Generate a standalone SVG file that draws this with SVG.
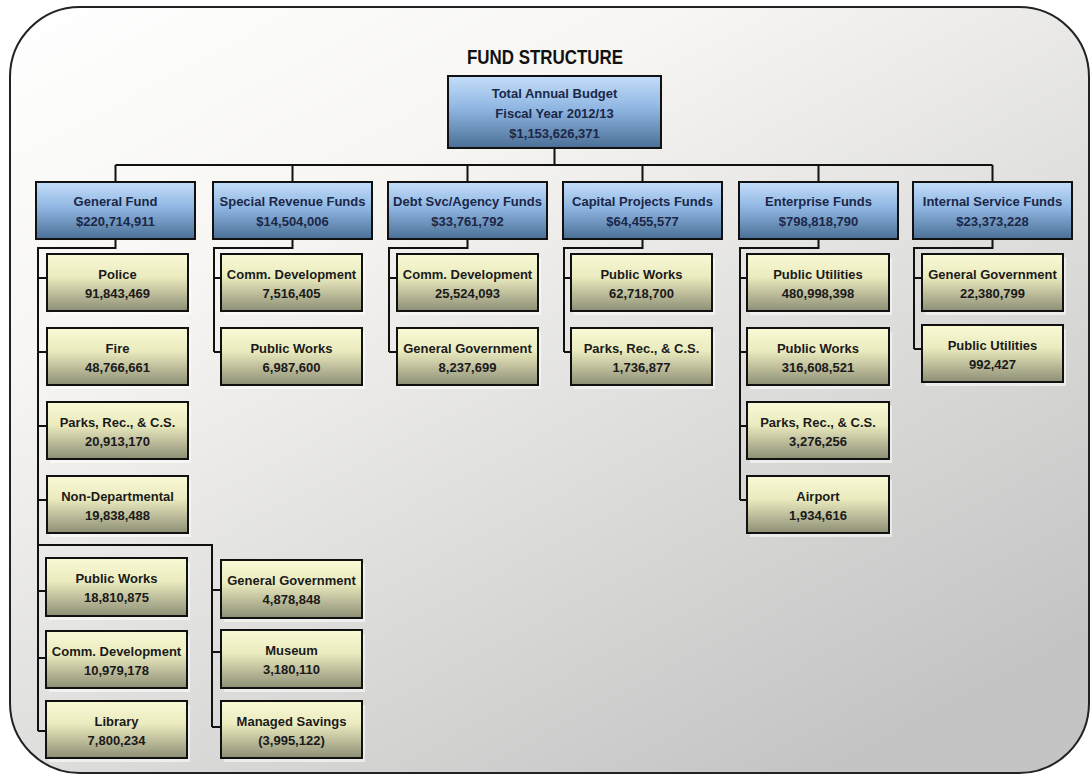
<svg xmlns="http://www.w3.org/2000/svg" width="1091" height="775" viewBox="0 0 1091 775">
<defs>
<linearGradient id="bg" x1="0" y1="0" x2="0.75" y2="1">
<stop offset="0" stop-color="#ffffff"/>
<stop offset="0.3" stop-color="#f7f6f3"/>
<stop offset="1" stop-color="#c4c4c4"/>
</linearGradient>
<linearGradient id="blue" x1="0" y1="0" x2="0" y2="1">
<stop offset="0" stop-color="#c4def9"/>
<stop offset="0.45" stop-color="#8fb6e2"/>
<stop offset="1" stop-color="#4b6f95"/>
</linearGradient>
<linearGradient id="yel" x1="0" y1="0" x2="0" y2="1">
<stop offset="0" stop-color="#f9f9d6"/>
<stop offset="0.4" stop-color="#ebebbf"/>
<stop offset="1" stop-color="#8e8e76"/>
</linearGradient>
</defs>
<style>
.frame{fill:url(#bg);stroke:#222;stroke-width:2}
.l1 rect.b{fill:url(#blue);stroke:#111;stroke-width:2}
.l2 rect.b{fill:url(#yel);stroke:#111;stroke-width:2}
rect.s{fill:#ffffff;opacity:0.55}
text{font-family:"Liberation Sans",Arial,sans-serif;font-weight:bold;text-anchor:middle}
.l1 text,.top text{fill:#1b2748;font-size:13px}
.l2 text{fill:#1a1a1a;font-size:13px}
.title{font-size:21px;fill:#111}
#connectors path{fill:none;stroke:#111;stroke-width:2}
</style>
<rect class="frame" x="10" y="7" width="1079" height="766" rx="70" ry="70"/>
<text class="title" x="545" y="64" textLength="156" lengthAdjust="spacingAndGlyphs">FUND STRUCTURE</text>
<g id="connectors">
<path d="M554.5 148V165M115.5 165H992.5M115.5 165V182M292.5 165V182M467.5 165V182M642.5 165V182M818.5 165V182M992.5 165V182"/>
<path d="M115.5 239V248H38V731M38 278H47M38 352H47M38 426H47M38 500H47M38 591H46M38 658H46M38 731H46M38 545H212V727M212 590H221M212 652H221M212 727H221"/>
<path d="M292.5 239V248H214V352M214 278H221M214 352H221"/>
<path d="M467.5 239V248H389V352M389 278H397M389 352H397"/>
<path d="M642.5 239V248H564V352M564 278H571M564 352H571"/>
<path d="M818.5 239V248H740V500M740 278H747M740 352H747M740 426H747M740 500H747"/>
<path d="M992.5 239V248H914V349M914 278H922M914 349H922"/>
</g>
<g id="total" class="top"><rect class="b" x="448" y="76" width="213" height="72" fill="url(#blue)" stroke="#111" stroke-width="2"/><text x="554.5" y="97.5" font-size="13.5">Total Annual Budget</text><text x="554.5" y="118">Fiscal Year 2012/13</text><text x="554.5" y="137.5">$1,153,626,371</text></g>
<g id="general-fund" class="l1"><rect class="b" x="36" y="182" width="159" height="57"/><text x="115.5" y="206">General Fund</text><text x="115.5" y="226">$220,714,911</text></g>
<g id="special-revenue" class="l1"><rect class="b" x="213" y="182" width="159" height="57"/><text x="292.5" y="206">Special Revenue Funds</text><text x="292.5" y="226">$14,504,006</text></g>
<g id="debt-svc" class="l1"><rect class="b" x="388" y="182" width="159" height="57"/><text x="467.5" y="206">Debt Svc/Agency Funds</text><text x="467.5" y="226">$33,761,792</text></g>
<g id="capital-projects" class="l1"><rect class="b" x="563" y="182" width="159" height="57"/><text x="642.5" y="206">Capital Projects Funds</text><text x="642.5" y="226">$64,455,577</text></g>
<g id="enterprise" class="l1"><rect class="b" x="739" y="182" width="159" height="57"/><text x="818.5" y="206">Enterprise Funds</text><text x="818.5" y="226">$798,818,790</text></g>
<g id="internal-service" class="l1"><rect class="b" x="913" y="182" width="159" height="57"/><text x="992.5" y="206">Internal Service Funds</text><text x="992.5" y="226">$23,373,228</text></g>
<g id="gf-police" class="l2"><rect class="s" x="50" y="258" width="141" height="57"/><rect class="b" x="47" y="254" width="141" height="57"/><text x="117.5" y="278.5">Police</text><text x="117.5" y="297.5">91,843,469</text></g>
<g id="gf-fire" class="l2"><rect class="s" x="50" y="332" width="141" height="57"/><rect class="b" x="47" y="328" width="141" height="57"/><text x="117.5" y="352.5">Fire</text><text x="117.5" y="371.5">48,766,661</text></g>
<g id="gf-parks" class="l2"><rect class="s" x="50" y="406" width="141" height="57"/><rect class="b" x="47" y="402" width="141" height="57"/><text x="117.5" y="426.5">Parks, Rec., &amp; C.S.</text><text x="117.5" y="445.5">20,913,170</text></g>
<g id="gf-nondept" class="l2"><rect class="s" x="50" y="480" width="141" height="57"/><rect class="b" x="47" y="476" width="141" height="57"/><text x="117.5" y="500.5">Non-Departmental</text><text x="117.5" y="519.5">19,838,488</text></g>
<g id="gf-publicworks" class="l2"><rect class="s" x="49" y="562" width="141" height="58"/><rect class="b" x="46" y="558" width="141" height="58"/><text x="116.5" y="582.5">Public Works</text><text x="116.5" y="601.5">18,810,875</text></g>
<g id="gf-commdev" class="l2"><rect class="s" x="49" y="635" width="141" height="57"/><rect class="b" x="46" y="631" width="141" height="57"/><text x="116.5" y="655.5">Comm. Development</text><text x="116.5" y="674.5">10,979,178</text></g>
<g id="gf-library" class="l2"><rect class="s" x="49" y="705" width="141" height="57"/><rect class="b" x="46" y="701" width="141" height="57"/><text x="116.5" y="725.5">Library</text><text x="116.5" y="744.5">7,800,234</text></g>
<g id="gf-gengov" class="l2"><rect class="s" x="224" y="564" width="141" height="58"/><rect class="b" x="221" y="560" width="141" height="58"/><text x="291.5" y="584.5">General Government</text><text x="291.5" y="603.5">4,878,848</text></g>
<g id="gf-museum" class="l2"><rect class="s" x="224" y="634" width="141" height="58"/><rect class="b" x="221" y="630" width="141" height="58"/><text x="291.5" y="654.5">Museum</text><text x="291.5" y="673.5">3,180,110</text></g>
<g id="gf-managed" class="l2"><rect class="s" x="224" y="705" width="141" height="57"/><rect class="b" x="221" y="701" width="141" height="57"/><text x="291.5" y="725.5">Managed Savings</text><text x="291.5" y="744.5">(3,995,122)</text></g>
<g id="sr-commdev" class="l2"><rect class="s" x="224" y="258" width="141" height="57"/><rect class="b" x="221" y="254" width="141" height="57"/><text x="291.5" y="278.5">Comm. Development</text><text x="291.5" y="297.5">7,516,405</text></g>
<g id="sr-publicworks" class="l2"><rect class="s" x="224" y="332" width="141" height="57"/><rect class="b" x="221" y="328" width="141" height="57"/><text x="291.5" y="352.5">Public Works</text><text x="291.5" y="371.5">6,987,600</text></g>
<g id="ds-commdev" class="l2"><rect class="s" x="400" y="258" width="141" height="57"/><rect class="b" x="397" y="254" width="141" height="57"/><text x="467.5" y="278.5">Comm. Development</text><text x="467.5" y="297.5">25,524,093</text></g>
<g id="ds-gengov" class="l2"><rect class="s" x="400" y="332" width="141" height="57"/><rect class="b" x="397" y="328" width="141" height="57"/><text x="467.5" y="352.5">General Government</text><text x="467.5" y="371.5">8,237,699</text></g>
<g id="cp-publicworks" class="l2"><rect class="s" x="574" y="258" width="141" height="57"/><rect class="b" x="571" y="254" width="141" height="57"/><text x="641.5" y="278.5">Public Works</text><text x="641.5" y="297.5">62,718,700</text></g>
<g id="cp-parks" class="l2"><rect class="s" x="574" y="332" width="141" height="57"/><rect class="b" x="571" y="328" width="141" height="57"/><text x="641.5" y="352.5">Parks, Rec., &amp; C.S.</text><text x="641.5" y="371.5">1,736,877</text></g>
<g id="ef-utilities" class="l2"><rect class="s" x="750" y="258" width="142" height="57"/><rect class="b" x="747" y="254" width="142" height="57"/><text x="818" y="278.5">Public Utilities</text><text x="818" y="297.5">480,998,398</text></g>
<g id="ef-publicworks" class="l2"><rect class="s" x="750" y="332" width="142" height="57"/><rect class="b" x="747" y="328" width="142" height="57"/><text x="818" y="352.5">Public Works</text><text x="818" y="371.5">316,608,521</text></g>
<g id="ef-parks" class="l2"><rect class="s" x="750" y="406" width="142" height="57"/><rect class="b" x="747" y="402" width="142" height="57"/><text x="818" y="426.5">Parks, Rec., &amp; C.S.</text><text x="818" y="445.5">3,276,256</text></g>
<g id="ef-airport" class="l2"><rect class="s" x="750" y="480" width="142" height="57"/><rect class="b" x="747" y="476" width="142" height="57"/><text x="818" y="500.5">Airport</text><text x="818" y="519.5">1,934,616</text></g>
<g id="is-gengov" class="l2"><rect class="s" x="925" y="258" width="141" height="57"/><rect class="b" x="922" y="254" width="141" height="57"/><text x="992.5" y="278.5">General Government</text><text x="992.5" y="297.5">22,380,799</text></g>
<g id="is-utilities" class="l2"><rect class="s" x="925" y="329" width="141" height="57"/><rect class="b" x="922" y="325" width="141" height="57"/><text x="992.5" y="349.5">Public Utilities</text><text x="992.5" y="368.5">992,427</text></g>
</svg>
